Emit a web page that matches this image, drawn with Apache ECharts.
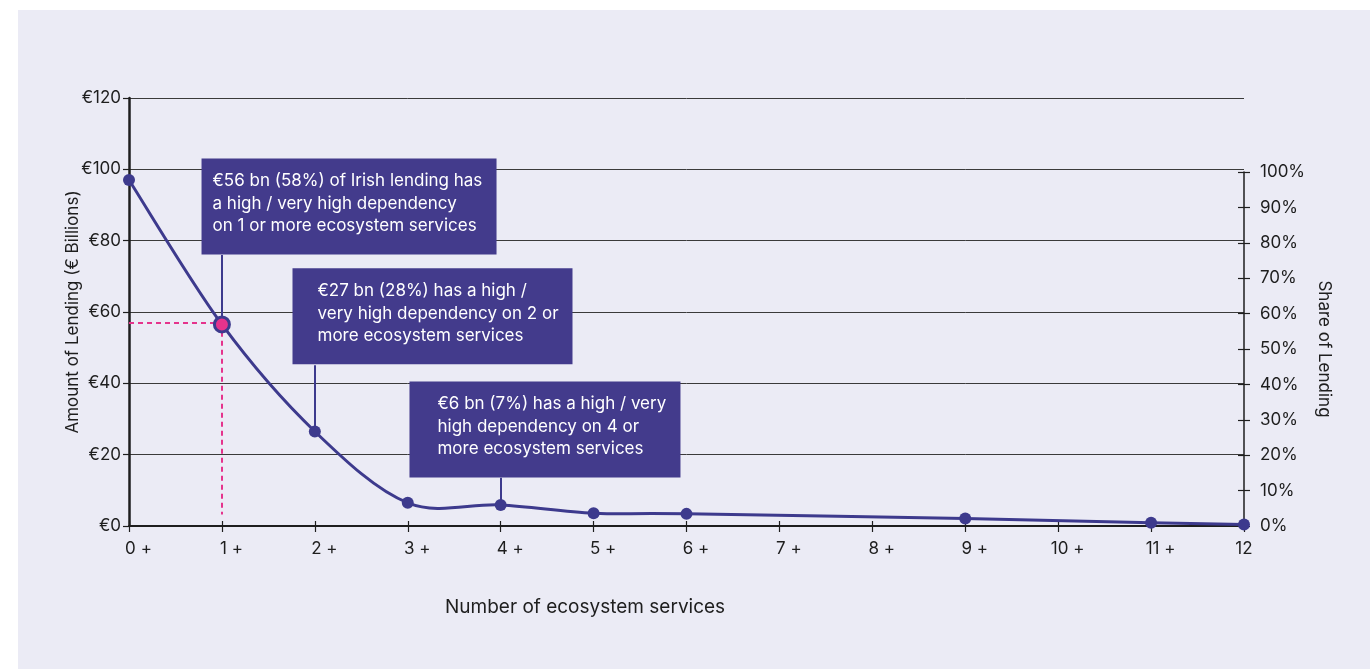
<!DOCTYPE html>
<html>
<head>
<meta charset="utf-8">
<script src="https://cdn.jsdelivr.net/npm/echarts@6/dist/echarts.min.js"></script>
<style>
	html, body { margin: 0; padding: 0; background: #ffffff; }
	#panel { position: absolute; left: 18px; top: 10px; right: 0; bottom: 0; background: #ebebf5; }
	#chart { position: absolute; left: 0; top: 0; width: 1370px; height: 669px; }
</style>
</head>
<body>
<div id="panel"></div>
<div id="chart"></div>
<script>
// number of ecosystem services (x) and amount of lending in € bn (y)
const services = [0, 1, 2, 3, 4, 5, 6, 9, 11, 12];
const lending = [97, 56.5, 26.5, 6.5, 5.9, 3.6, 3.4, 2.1, 0.9, 0.4];
const tickLabels = ['0 +', '1 +', '2 +', '3 +', '4 +', '5 +', '6 +', '7 +', '8 +', '9 +', '10 +', '11 +', '12'];
const highlightIndex = 1;
const highlightLevel = 57;

const notes = [
	{ at: 1, text: '€56 bn (58%) of Irish lending has\na high / very high dependency\non 1 or more ecosystem services' },
	{ at: 2, text: '€27 bn (28%) has a high /\nvery high dependency on 2 or\nmore ecosystem services' },
	{ at: 4, text: '€6 bn (7%) has a high / very\nhigh dependency on 4 or\nmore ecosystem services' }
];
// box placement in axis units: left x, top y, bottom y, box width, padding left/right
const noteBoxes = [
	{ x: 0.786, top: 102.9, bottom: 76.0, w: 295, pl: 11, pr: 10 },
	{ x: 1.765, top: 72.1, bottom: 45.1, w: 280, pl: 25, pr: 10 },
	{ x: 3.024, top: 40.4, bottom: 13.5, w: 271, pl: 28, pr: 10 }
];

const INK = '#1e1e1e';
const LINE = '#3d3a8d';
const BOX = '#433b8c';
const PINK = '#e5338c';
const FONT = 'Inter, "Noto Sans", sans-serif';
const FS = 17;

function seriesData() {
	return services.map(function(x, i) {
		if (i == highlightIndex) {
			return {
				value: [x, lending[i]],
				symbolSize: 15,
				itemStyle: { color: PINK, borderColor: LINE, borderWidth: 3 }
			};
		}
		return [x, lending[i]];
	});
}

function noteLabels() {
	return notes.map(function(n, i) {
		let b = noteBoxes[i];
		return {
			coord: [b.x, b.top],
			symbol: 'rect',
			symbolSize: 1,
			itemStyle: { color: 'rgba(0,0,0,0)' },
			label: {
				show: true,
				position: [0, 0],
				align: 'left',
				verticalAlign: 'top',
				formatter: n.text,
				color: '#ffffff',
				fontFamily: FONT,
				fontSize: FS,
				lineHeight: 22.5,
				overflow: 'none',
				backgroundColor: BOX,
				padding: [11.5, b.pr, 17, b.pl],
				width: b.w - b.pl - b.pr,
				height: 67.5
			}
		};
	});
}

function noteLines() {
	let lines = notes.map(function(n, i) {
		let idx = services.indexOf(n.at);
		return [
			{ coord: [n.at, noteBoxes[i].bottom] },
			{ coord: [n.at, lending[idx]] }
		];
	});
	let hx = services[highlightIndex];
	let dash = { color: PINK, width: 2, type: [5, 4] };
	lines.push([{ coord: [0, highlightLevel], lineStyle: dash }, { coord: [hx, highlightLevel] }]);
	lines.push([{ coord: [hx, highlightLevel], lineStyle: dash }, { coord: [hx, 3.2] }]);
	return lines;
}

/**
 * catmull-rom segment from point i to i+1, drawn as a bezier in pixel space
 */
function renderCurve(params, api) {
	let i = params.dataIndex;
	let n = services.length;
	if (i >= n - 1) return null;
	let pt = function(k) {
		k = Math.max(0, Math.min(n - 1, k));
		return api.coord([services[k], lending[k]]);
	};
	let p0 = pt(i - 1), p1 = pt(i), p2 = pt(i + 1), p3 = pt(i + 2);
	return {
		type: 'bezierCurve',
		shape: {
			x1: p1[0], y1: p1[1],
			x2: p2[0], y2: p2[1],
			cpx1: p1[0] + (p2[0] - p0[0]) / 6,
			cpy1: p1[1] + (p2[1] - p0[1]) / 6,
			cpx2: p2[0] - (p3[0] - p1[0]) / 6,
			cpy2: p2[1] - (p3[1] - p1[1]) / 6
		},
		style: { stroke: LINE, lineWidth: 3, fill: null }
	};
}

// plain axes used only to hold a grid, or to add inward ticks so ticks cross the axis line
function hiddenAxis(grid, max) {
	return { type: 'value', gridIndex: grid, min: 0, max: max, show: false };
}

var tick = { color: INK, width: 1.2 };

var myChart = echarts.init(document.getElementById('chart'));
var option = {
	animation: false,
	textStyle: { fontFamily: FONT },
	grid: [
		{ left: 129, right: 126, top: 98, bottom: 143 },
		{ left: 129, right: 126, top: 172, bottom: 143 },
		{ left: 129, right: 126, top: 172, bottom: 143 },
		{ left: 129, right: 126, top: 98, bottom: 143 }
	],
	xAxis: [{
		type: 'value',
		gridIndex: 0,
		min: 0,
		max: 12,
		interval: 1,
		splitLine: { show: false },
		axisLine: { onZero: false, lineStyle: { color: INK, width: 2 } },
		axisTick: { length: 6, lineStyle: tick },
		axisLabel: {
			margin: 14,
			color: INK,
			fontSize: FS,
			formatter: function(v) {
				let s = tickLabels[v];
				return s.indexOf('+') > 0 ? '{p|' + s + '}' : '{n|' + s + '}';
			},
			rich: {
				p: { fontSize: FS, color: INK, fontFamily: FONT, padding: [0, 0, 0, 19] },
				n: { fontSize: FS, color: INK, fontFamily: FONT }
			}
		}
	},
	hiddenAxis(1, 12),
	hiddenAxis(2, 12),
	{
		type: 'value',
		gridIndex: 3,
		min: 0,
		max: 12,
		interval: 1,
		splitLine: { show: false },
		axisLine: { show: false, onZero: false },
		axisTick: { inside: true, length: 5, lineStyle: tick },
		axisLabel: { show: false }
	}],
	yAxis: [{
		type: 'value',
		gridIndex: 0,
		min: 0,
		max: 120,
		interval: 20,
		name: 'Amount of Lending (€ Billions)',
		nameLocation: 'middle',
		nameGap: 48,
		nameMoveOverlap: false,
		nameTextStyle: { color: INK, fontSize: FS, fontFamily: FONT },
		axisLine: { show: true, onZero: false, lineStyle: { color: INK, width: 2.5 } },
		axisTick: { show: true, length: 6, lineStyle: tick },
		axisLabel: { color: INK, fontSize: FS, margin: 8, formatter: function(v) { return '€' + v; } },
		splitLine: { lineStyle: { color: '#3a3a3a', width: 1 } }
	}, {
		type: 'value',
		gridIndex: 1,
		position: 'right',
		min: 0,
		max: 100,
		interval: 10,
		name: 'Share of Lending',
		nameLocation: 'middle',
		nameRotate: -90,
		nameGap: 72,
		nameTextStyle: { color: INK, fontSize: FS, fontFamily: FONT },
		axisLine: { show: true, onZero: false, lineStyle: { color: INK, width: 1.5 } },
		axisTick: { show: true, length: 6, lineStyle: tick },
		axisLabel: { color: INK, fontSize: FS, margin: 16, formatter: function(v) { return v + '%'; } },
		splitLine: { show: false }
	}, {
		type: 'value',
		gridIndex: 2,
		position: 'right',
		min: 0,
		max: 100,
		interval: 10,
		axisLine: { show: false, onZero: false },
		axisTick: { show: true, inside: true, length: 6, lineStyle: tick },
		axisLabel: { show: false },
		splitLine: { show: false }
	},
	hiddenAxis(3, 120)],
	graphic: [{
		type: 'text',
		left: 445,
		top: 598,
		style: { text: 'Number of ecosystem services', fill: INK, fontSize: 19, fontFamily: FONT }
	}],
	series: [{
		type: 'custom',
		xAxisIndex: 0,
		yAxisIndex: 0,
		data: services.map(function(x, i) { return [x, lending[i]]; }),
		encode: { x: 0, y: 1 },
		renderItem: renderCurve,
		silent: true,
		z: 2
	}, {
		type: 'line',
		xAxisIndex: 0,
		yAxisIndex: 0,
		data: seriesData(),
		symbol: 'circle',
		symbolSize: 12,
		z: 3,
		lineStyle: { opacity: 0 },
		itemStyle: { color: LINE },
		markLine: {
			silent: true,
			symbol: ['none', 'none'],
			label: { show: false },
			lineStyle: { color: LINE, width: 2, type: 'solid' },
			data: noteLines(),
			z: 2
		},
		markPoint: {
			silent: true,
			data: noteLabels(),
			z: 4
		}
	}]
};
myChart.setOption(option);
</script>
</body>
</html>
